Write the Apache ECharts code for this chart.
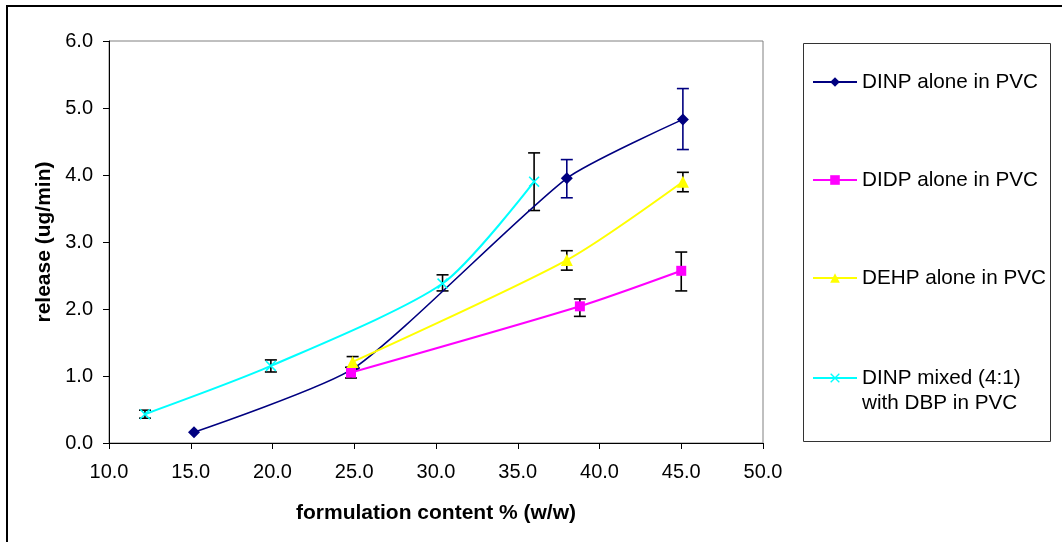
<!DOCTYPE html>
<html>
<head>
<meta charset="utf-8">
<script src="https://cdn.jsdelivr.net/npm/echarts@6/dist/echarts.min.js"></script>
<style>
html,body{margin:0;padding:0;background:#fff;}
#chart{width:1062px;height:542px;}
</style>
</head>
<body>
<div id="chart"></div>
<script>
// ---- data ----
const seriesNames = ['DINP alone in PVC', 'DIDP alone in PVC', 'DEHP alone in PVC', 'DINP mixed (4:1) with DBP in PVC'];

const dinpAloneX = [15.2, 25.0, 38.0, 45.1];
const dinpAloneY = [0.16, 1.12, 3.95, 4.83];
const dinpAloneLow = [null, null, 3.66, 4.38];
const dinpAloneHigh = [null, null, 4.23, 5.29];

const didpX = [24.8, 38.8, 45.0];
const didpY = [1.05, 2.04, 2.57];
const didpLow = [0.97, 1.89, 2.27];
const didpHigh = [1.13, 2.15, 2.85];

const dehpX = [24.9, 38.0, 45.1];
const dehpY = [1.21, 2.73, 3.90];
const dehpLow = [1.13, 2.58, 3.75];
const dehpHigh = [1.29, 2.87, 4.04];

const mixX = [12.2, 19.9, 30.4, 36.0];
const mixY = [0.43, 1.15, 2.38, 3.90];
const mixLow = [0.37, 1.06, 2.27, 3.47];
const mixHigh = [0.49, 1.24, 2.51, 4.33];

const xTicks = [10, 15, 20, 25, 30, 35, 40, 45, 50];
const yTicks = [0, 1, 2, 3, 4, 5, 6];

// ---- helpers ----
function pts(xs, ys) { return xs.map((x, i) => [x, ys[i]]); }
function errs(xs, lo, hi) {
  const out = [];
  xs.forEach((x, i) => { if (lo[i] != null && hi[i] != null) out.push([x, lo[i], hi[i]]); });
  return out;
}
function errRender(color) {
  return function (params, api) {
    const x = api.value(0), lo = api.value(1), hi = api.value(2);
    const a = api.coord([x, lo]), b = api.coord([x, hi]);
    const w = 6;
    const st = { stroke: color, lineWidth: 1.6 };
    return {
      type: 'group',
      children: [
        { type: 'line', shape: { x1: a[0], y1: a[1], x2: b[0], y2: b[1] }, style: st },
        { type: 'line', shape: { x1: a[0] - w, y1: a[1], x2: a[0] + w, y2: a[1] }, style: st },
        { type: 'line', shape: { x1: b[0] - w, y1: b[1], x2: b[0] + w, y2: b[1] }, style: st }
      ]
    };
  };
}
function errSeries(data, color) {
  return {
    type: 'custom', renderItem: errRender(color), data: data,
    encode: { x: 0, y: [1, 2] }, silent: true, z: 1, legendHoverLink: false
  };
}

const FONT = "'Liberation Sans', Arial, sans-serif";
const xSymbol = 'path://M0,1L1,0L5,4L9,0L10,1L6,5L10,9L9,10L5,6L1,10L0,9L4,5Z';

const colors = ['#000080', '#FF00FF', '#FFFF00', '#00FFFF'];

function legendAt(name, top, formatterText) {
  const l = {
    show: true, orient: 'vertical', left: 812, top: top, padding: 0,
    itemWidth: 44, itemHeight: 12, selectedMode: false,
    data: [name],
    textStyle: { fontFamily: FONT, fontSize: 20.7, color: '#000', lineHeight: 25 }
  };
  if (formatterText) l.formatter = function () { return formatterText; };
  return l;
}

const option = {
  backgroundColor: '#fff',
  animation: false,
  grid: { left: 109, right: 299, top: 41, bottom: 99, show: true, borderColor: '#808080', borderWidth: 1, backgroundColor: '#fff' },
  xAxis: {
    type: 'value', min: xTicks[0], max: xTicks[xTicks.length - 1], interval: 5,
    name: 'formulation content % (w/w)', nameLocation: 'middle', nameGap: 60,
    nameTextStyle: { fontFamily: FONT, fontSize: 21, fontWeight: 'bold', color: '#000' },
    axisLine: { onZero: false, lineStyle: { color: '#000', width: 1 } },
    axisTick: { show: true, length: 6, lineStyle: { color: '#000' } },
    axisLabel: { fontFamily: FONT, fontSize: 20, color: '#000', margin: 19, formatter: v => v.toFixed(1) },
    splitLine: { show: false }
  },
  yAxis: {
    type: 'value', min: yTicks[0], max: yTicks[yTicks.length - 1], interval: 1,
    name: 'release (ug/min)', nameLocation: 'middle', nameGap: 53, nameRotate: 90,
    nameTextStyle: { fontFamily: FONT, fontSize: 21, fontWeight: 'bold', color: '#000' },
    axisLine: { show: true, onZero: false, lineStyle: { color: '#000', width: 1 } },
    axisTick: { show: true, length: 6, lineStyle: { color: '#000' } },
    axisLabel: { fontFamily: FONT, fontSize: 20, color: '#000', margin: 16, formatter: v => v.toFixed(1) },
    splitLine: { show: false }
  },
  legend: [
    legendAt(seriesNames[0], 69.5),
    legendAt(seriesNames[1], 167.5),
    legendAt(seriesNames[2], 265.5),
    legendAt(seriesNames[3], 340.5, '\nDINP mixed (4:1)\nwith DBP in PVC')
  ],
  graphic: [
    { type: 'rect', shape: { x: 7, y: 6, width: 1200, height: 700 }, style: { fill: 'none', stroke: '#000', lineWidth: 2 }, z: 100, silent: true },
    { type: 'rect', shape: { x: 803.5, y: 43.5, width: 247, height: 398 }, style: { fill: 'none', stroke: '#333', lineWidth: 1 }, z: 100, silent: true }
  ],
  series: [
    errSeries(errs(dinpAloneX, dinpAloneLow, dinpAloneHigh), '#000080'),
    errSeries(errs(didpX, didpLow, didpHigh), '#000'),
    errSeries(errs(dehpX, dehpLow, dehpHigh), '#000'),
    errSeries(errs(mixX, mixLow, mixHigh), '#000'),
    {
      name: seriesNames[0], type: 'line', data: pts(dinpAloneX, dinpAloneY), smooth: 0.2,
      symbol: 'diamond', symbolSize: 12, showAllSymbol: true,
      lineStyle: { color: colors[0], width: 1.6 }, itemStyle: { color: colors[0] }, z: 2
    },
    {
      name: seriesNames[1], type: 'line', data: pts(didpX, didpY), smooth: 0.25,
      symbol: 'rect', symbolSize: 10,
      lineStyle: { color: colors[1], width: 2 }, itemStyle: { color: colors[1] }, z: 3
    },
    {
      name: seriesNames[2], type: 'line', data: pts(dehpX, dehpY), smooth: 0.25,
      symbol: 'triangle', symbolSize: 12,
      lineStyle: { color: colors[2], width: 2 }, itemStyle: { color: colors[2] }, z: 3
    },
    {
      name: seriesNames[3], type: 'line', data: pts(mixX, mixY), smooth: 0.25,
      symbol: xSymbol, symbolSize: 11,
      lineStyle: { color: colors[3], width: 2 }, itemStyle: { color: colors[3] }, z: 4
    }
  ]
};

const chart = echarts.init(document.getElementById('chart'), null, { renderer: 'canvas' });
chart.setOption(option);
</script>
</body>
</html>
